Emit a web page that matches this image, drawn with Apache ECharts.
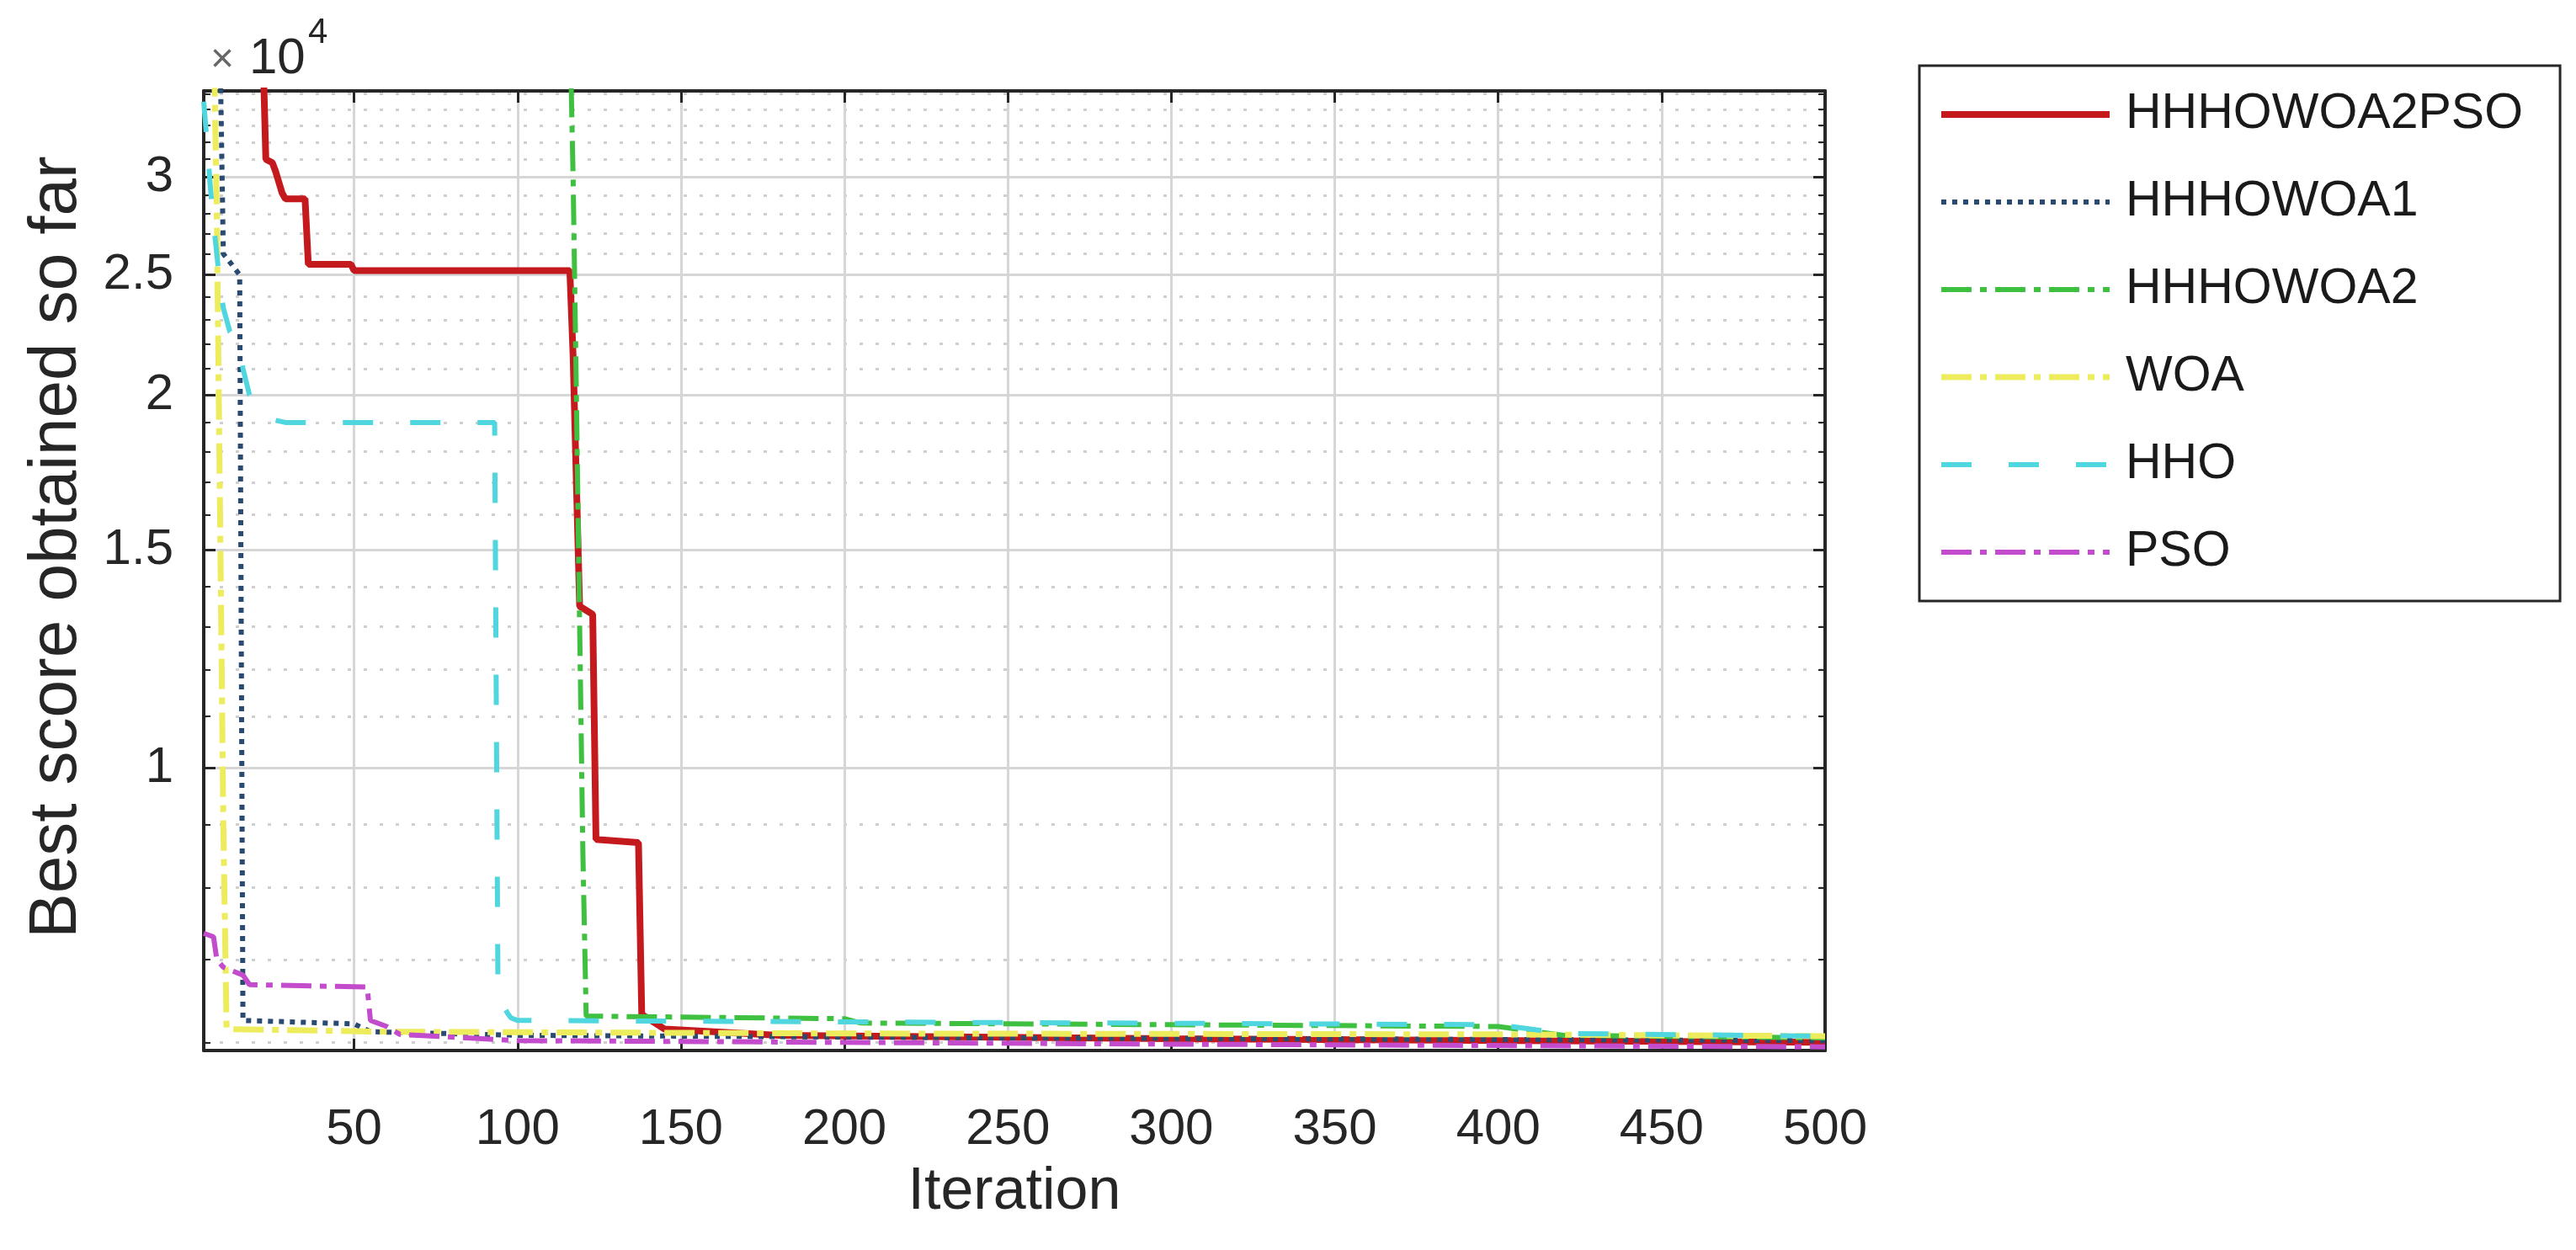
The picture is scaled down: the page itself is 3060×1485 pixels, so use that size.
<!DOCTYPE html>
<html>
<head>
<meta charset="utf-8">
<script src="https://cdn.jsdelivr.net/npm/echarts@6/dist/echarts.min.js"></script>
<style>
  html, body { margin: 0; padding: 0; background: #fff; }
  #main { width: 3060px; height: 1485px; }
</style>
</head>
<body>
<div id="main"></div>
<script>
// convergence curves, [iteration, best score]
var curveHHHOWOA2PSO = [[4, 39000], [22, 39000], [23, 31000], [25, 30800], [26, 30300], [27, 29700], [28, 29100], [29, 28800], [35, 28800], [36, 25500], [49, 25500], [50, 25200], [116, 25200], [117, 21500], [118, 17000], [119, 13500], [123, 13300], [124, 8750], [137, 8700], [138, 6320], [145, 6150], [180, 6080], [300, 6040], [500, 6000]];
var curveHHHOWOA1 = [[4, 38000], [9, 38000], [10, 26000], [11, 25800], [12, 25600], [13, 25400], [14, 25200], [15, 25000], [16, 6250], [50, 6210], [55, 6120], [100, 6080], [250, 6050], [500, 6020]];
var curveHHHOWOA2 = [[4, 40000], [116, 40000], [117, 30000], [118, 20000], [119, 13000], [120, 8500], [121, 6300], [200, 6270], [205, 6220], [400, 6180], [420, 6080], [500, 6050]];
var curveWOA = [[4, 40000], [7, 40000], [8, 28000], [9, 16000], [10, 9000], [11, 6150], [60, 6120], [200, 6100], [400, 6090], [500, 6070]];
var curveHHO = [[4, 34500], [5, 32000], [6, 29500], [7, 27500], [8, 26000], [9, 24500], [10, 23500], [12, 22500], [15, 22000], [16, 21000], [17, 20500], [18, 20000], [21, 19600], [25, 19100], [29, 19000], [93, 19000], [94, 6700], [95, 6500], [96, 6400], [97, 6330], [98, 6280], [100, 6250], [400, 6200], [420, 6100], [500, 6070]];
var curvePSO = [[4, 7350], [7, 7300], [8, 7000], [10, 6900], [16, 6800], [18, 6680], [54, 6650], [55, 6250], [60, 6180], [64, 6090], [100, 6020], [300, 5980], [500, 5950]];

var xTicks = [50, 100, 150, 200, 250, 300, 350, 400, 450, 500];
var yTicks = [10000, 15000, 20000, 25000, 30000];
var yMinor = [6000, 7000, 8000, 9000, 11000, 12000, 13000, 14000, 16000, 17000, 18000, 19000,
  21000, 22000, 23000, 24000, 26000, 27000, 28000, 29000, 31000, 32000, 33000, 34000, 35000];

var xMin = 4, xMax = 500, yMin = 5910, yMax = 35200;

var seriesDefs = [
  { name: 'HHHOWOA2PSO', data: curveHHHOWOA2PSO, color: '#c41a1e', width: 8, type: 'solid' },
  { name: 'HHHOWOA1', data: curveHHHOWOA1, color: '#2b4a72', width: 6, type: [6, 7] },
  { name: 'HHHOWOA2', data: curveHHHOWOA2, color: '#3fc040', width: 6, type: [36, 10, 8, 10] },
  { name: 'WOA', data: curveWOA, color: '#ecec5c', width: 7, type: [36, 10, 8, 10] },
  { name: 'HHO', data: curveHHO, color: '#4fd6de', width: 6, type: [36, 44] },
  { name: 'PSO', data: curvePSO, color: '#c24ccc', width: 6, type: [36, 10, 8, 10] }
];

var FONT = 'Liberation Sans, Arial, sans-serif';
var INK = '#262626';

function boxAxis(pos, isLog, ticks, extra) {
  var a = {
    type: isLog ? 'log' : 'value',
    position: pos,
    min: isLog ? yMin : xMin,
    max: isLog ? yMax : xMax,
    axisLine: { show: true, onZero: false, lineStyle: { color: INK, width: 4 } },
    axisTick: { show: true, inside: true, length: 14, customValues: ticks, lineStyle: { color: INK, width: 3 } },
    axisLabel: { show: false, customValues: ticks },
    splitLine: { show: false }
  };
  if (isLog) a.logBase = 10;
  return Object.assign(a, extra || {});
}

var chart = echarts.init(document.getElementById('main'), null, { renderer: 'canvas' });

chart.setOption({
  animation: false,
  backgroundColor: '#fff',
  grid: { left: 242, top: 108, width: 1926, height: 1140, containLabel: false },
  xAxis: [
    boxAxis('bottom', false, xTicks, {
      axisLabel: { show: true, customValues: xTicks, fontSize: 60, fontFamily: FONT, color: INK, margin: 64 },
      splitLine: { show: true, lineStyle: { color: '#d6d6d6', width: 3 } },
      name: 'Iteration', nameLocation: 'middle', nameGap: 134,
      nameTextStyle: { fontSize: 70, fontFamily: FONT, color: INK }
    }),
    boxAxis('top', false, xTicks)
  ],
  yAxis: [
    boxAxis('left', true, yTicks, {
      axisLabel: {
        show: true, customValues: yTicks, fontSize: 60, fontFamily: FONT, color: INK, margin: 36,
        formatter: function (v) { return String(Math.round(v / 1000) / 10); }
      },
      splitLine: { show: true, lineStyle: { color: '#d6d6d6', width: 3 } },
      name: 'Best score obtained so far', nameLocation: 'middle', nameGap: 134,
      nameTextStyle: { fontSize: 80, fontFamily: FONT, color: INK, padding: [0, 0, 0, 56] }
    }),
    boxAxis('right', true, yTicks),
    boxAxis('left', true, yMinor, {
      axisLine: { show: false },
      axisTick: { show: true, inside: true, length: 8, customValues: yMinor, lineStyle: { color: INK, width: 2 } },
      splitLine: { show: true, lineStyle: { color: '#cfcfcf', width: 3, type: [4, 15] } }
    }),
    boxAxis('right', true, yMinor, {
      axisLine: { show: false },
      axisTick: { show: true, inside: true, length: 8, customValues: yMinor, lineStyle: { color: INK, width: 2 } }
    })
  ],
  legend: {
    orient: 'vertical', left: 2280, top: 78,
    itemWidth: 200, itemHeight: 2, itemGap: 34,
    padding: [23, 44, 23, 22],
    borderColor: INK, borderWidth: 3, backgroundColor: '#fff',
    itemStyle: { opacity: 0 },
    lineStyle: { width: 'inherit' },
    textStyle: { fontSize: 59, fontFamily: FONT, color: '#1a1a1a', lineHeight: 70, padding: [0, 0, 0, 14] },
    data: seriesDefs.map(function (s) { return s.name; })
  },
  graphic: [
    { type: 'text', x: 250, y: 96, style: { text: '×', font: '48px ' + FONT, fill: '#666', verticalAlign: 'bottom' } },
    { type: 'text', x: 296, y: 100, style: { text: '10', font: '60px ' + FONT, fill: INK, verticalAlign: 'bottom' } },
    { type: 'text', x: 366, y: 60, style: { text: '4', font: '42px ' + FONT, fill: INK, verticalAlign: 'bottom' } }
  ],
  series: seriesDefs.map(function (s) {
    return {
      name: s.name, type: 'line', data: s.data,
      xAxisIndex: 0, yAxisIndex: 0,
      symbol: 'none', clip: true,
      itemStyle: { color: s.color },
      lineStyle: { color: s.color, width: s.width, type: s.type }
    };
  })
});
</script>
</body>
</html>
